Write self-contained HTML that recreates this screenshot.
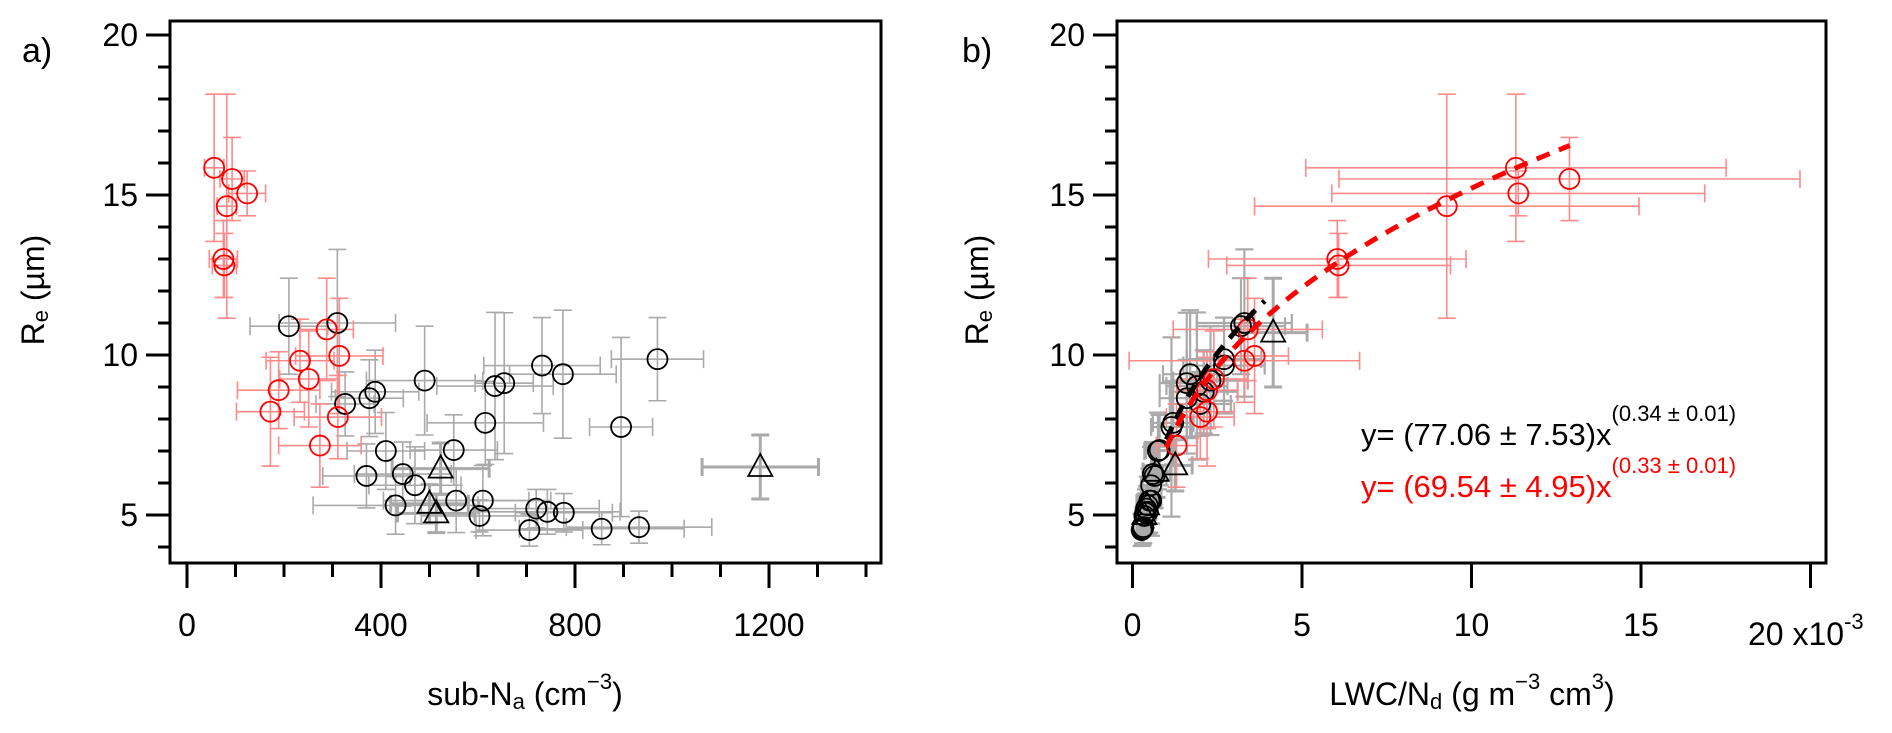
<!DOCTYPE html>
<html><head><meta charset="utf-8">
<style>
html,body{margin:0;padding:0;background:#fff;}
svg{display:block;font-family:"Liberation Sans",Arial,sans-serif;}
</style></head>
<body>
<svg id="chart" width="1892" height="733" viewBox="0 0 1892 733" xmlns="http://www.w3.org/2000/svg">
  <g id="panelA"></g>
  <g id="panelB"></g>
  <text x="22" y="62" font-size="34">a)</text>
  <text x="962" y="62" font-size="34">b)</text>
  <text transform="translate(44,290) rotate(-90)" text-anchor="middle" font-size="32">R<tspan font-size="22" dy="4">e</tspan><tspan dy="-4"> (µm)</tspan></text>
  <text transform="translate(988,290) rotate(-90)" text-anchor="middle" font-size="32">R<tspan font-size="22" dy="4">e</tspan><tspan dy="-4"> (µm)</tspan></text>
  <text x="525" y="705" text-anchor="middle" font-size="32">sub-N<tspan font-size="22" dy="4">a</tspan><tspan dy="-4"> (cm</tspan><tspan font-size="22" dy="-16">−3</tspan><tspan dy="16">)</tspan></text>
  <text x="1472" y="705" text-anchor="middle" font-size="32">LWC/N<tspan font-size="22" dy="4">d</tspan><tspan dy="-4"> (g m</tspan><tspan font-size="22" dy="-16">−3</tspan><tspan dy="16"> cm</tspan><tspan font-size="22" dy="-16">3</tspan><tspan dy="16">)</tspan></text>
  <text x="1748" y="645" font-size="32">20 x10<tspan font-size="22" dy="-16">-3</tspan></text>
  <text x="1361" y="445" font-size="31" fill="#000">y= (77.06 ± 7.53)x<tspan font-size="22" dy="-24">(0.34 ± 0.01)</tspan></text>
  <text x="1361" y="497" font-size="31" fill="#f00">y= (69.54 ± 4.95)x<tspan font-size="22" dy="-24">(0.33 ± 0.01)</tspan></text>
</svg>
<script>
// ---- data: panel a (sub-Na vs Re) ----
const blackRe = [10.9,11.0,8.47,8.65,8.85,9.2,9.03,9.12,9.67,9.4,9.87,7.88,7.75,7.0,7.03,6.22,6.28,5.93,5.3,5.45,5.45,4.97,5.2,5.1,5.07,4.53,4.57,4.62];
const blackReErr = [1.5,2.3,1.0,1.2,1.3,1.7,2.3,2.2,1.5,2.0,1.3,1.3,2.8,1.2,1.1,1.0,1.0,1.2,0.9,1.0,1.1,0.5,0.6,0.7,0.6,0.5,0.5,0.5];
const blackNa = [210,310,326,376,388,490,635,654,732,775,970,615,895,410,550,370,445,470,430,555,610,603,720,743,777,706,855,932];
const blackNaErr = [80,120,60,70,90,120,120,60,120,110,95,120,65,80,90,90,100,95,170,150,140,120,130,150,100,110,170,150];
const redRe = [15.85,15.5,15.05,14.65,13.0,12.8,10.8,9.97,9.82,9.25,8.9,8.23,8.06,7.17];
const redReErr = [2.3,1.3,0.7,3.5,1.2,1.0,1.6,1.8,1.3,1.5,1.2,1.7,1.3,1.3];
const redNa = [56,93,124,82,75,77,288,314,233,251,189,172,311,274];
const redNaErr = [20,25,38,20,29,25,55,90,70,60,85,70,90,85];
const triNa = [523,500,514,1182];
const triNaErr = [100,80,80,120];
const triReA = [6.45,5.35,5.05,6.5];
const triReErrA = [0.8,0.6,0.6,1.0];
// ---- data: panel b (LWC/Nd x1e-3 vs Re) ----
const blackLwc = [3.2,3.3,2.0,1.6,2.1,2.3,1.9,1.6,2.7,1.7,2.7,1.2,1.15,0.75,0.8,0.65,0.6,0.55,0.45,0.5,0.55,0.35,0.4,0.45,0.38,0.27,0.3,0.32];
const blackLwcErr = [1.3,1.4,0.9,0.8,1.0,1.1,0.9,0.8,1.2,0.8,1.1,0.6,0.6,0.4,0.4,0.35,0.3,0.3,0.25,0.25,0.3,0.2,0.2,0.25,0.2,0.15,0.15,0.2];
const redLwc = [11.31,12.89,11.38,9.27,6.04,6.08,3.4,3.6,3.3,2.4,2.2,2.2,2.0,1.3];
const redLwcErr = [6.2,6.8,5.5,5.67,3.8,3.3,2.2,1.0,3.4,1.0,0.9,0.8,1.0,0.6];
const triLwc = [4.15,1.26,0.71,0.43,0.35];
const triLwcErr = [1.0,0.5,0.4,0.3,0.25];
const triReB = [10.7,6.55,6.35,5.3,5.0];
const triReErrB = [1.7,0.8,0.8,0.6,0.6];
// fit parameters  y = a * x^b  (x in g m-3 cm3)
const fitA = [77.06, 69.54];
const fitB = [0.34, 0.33];
const fitRange = [[1.0,3.9],[1.0,12.9]];
const yTicks = [5,10,15,20];
const xTicksA = [0,400,800,1200];
const xTicksB = [0,5,10,15];

const NS = "http://www.w3.org/2000/svg";
function mk(parent, tag, attrs){const e=document.createElementNS(NS,tag);for(const k in attrs)e.setAttribute(k,attrs[k]);parent.appendChild(e);return e;}

const plotTop=21, plotBot=563;
const yS = v => 515 - (v-5)*32;

function frame(g, L, R, xS, xMajor, xMinorStep, xMin, xMax, labels){
  const f = mk(g,'rect',{x:L,y:plotTop,width:R-L,height:plotBot-plotTop,fill:'none',stroke:'#000','stroke-width':3});
  
  
  for(let v=4; v<=20; v++){
    const y=yS(v), major = v%5===0;
    const t=mk(g,'line',{x1:L-(major?24:12),x2:L,y1:y,y2:y,stroke:'#000','stroke-width':3});
    
    
  }
  yTicks.forEach(v=>{
    const t=mk(g,'text',{x:L-32,y:yS(v)+11,'text-anchor':'end','font-size':32});
    t.textContent=v;
    
    
  });
  if(xMinorStep){
    for(let v=xMin; v<=xMax; v+=xMinorStep){
      const x=xS(v);
      const t=mk(g,'line',{x1:x,x2:x,y1:plotBot,y2:plotBot+14,stroke:'#000','stroke-width':3});
      
      
    }
  }
  xMajor.forEach(v=>{
    const x=xS(v);
    const t=mk(g,'line',{x1:x,x2:x,y1:plotBot,y2:plotBot+25,stroke:'#000','stroke-width':3});
    
    
  });
  labels.forEach(v=>{
    const t=mk(g,'text',{x:xS(v),y:636,'text-anchor':'middle','font-size':32});
    t.textContent=v;
    
    
  });
}

function errbar(g, x, y, ex, ey, xS, color, w, cap){
  const cx=xS(x), cy=yS(y), x1=xS(x-ex), x2=xS(x+ex), y1=yS(y-ey), y2=yS(y+ey);
  const e=mk(g,'path',{d:`M${x1},${cy}H${x2}M${cx},${y1}V${y2}M${x1},${cy-cap}V${cy+cap}M${x2},${cy-cap}V${cy+cap}M${cx-cap},${y1}H${cx+cap}M${cx-cap},${y2}H${cx+cap}`,stroke:color,'stroke-width':w,fill:'none'});
  
  
}
function circ(g,x,y,xS,color){
  const c=mk(g,'circle',{cx:xS(x),cy:yS(y),r:10,fill:'none',stroke:color,'stroke-width':1.8});
  
  
}
function tri(g,x,y,xS){
  const cx=xS(x), cy=yS(y);
  const t=mk(g,'path',{d:`M${cx},${cy-13}L${cx+12},${cy+9}L${cx-12},${cy+9}Z`,fill:'none',stroke:'#000','stroke-width':1.8});
  
  
}

// ---- Panel A ----
const gA=document.getElementById('panelA');
const xA = v => 187 + v*0.485;
blackNa.forEach((x,i)=>errbar(gA,x,blackRe[i],blackNaErr[i],blackReErr[i],xA,'#aaaaaa',1.6,9));
triNa.forEach((x,i)=>errbar(gA,x,triReA[i],triNaErr[i],triReErrA[i],xA,'#aaaaaa',3,9));
redNa.forEach((x,i)=>errbar(gA,x,redRe[i],redNaErr[i],redReErr[i],xA,'#ff8a8a',1.6,9));
blackNa.forEach((x,i)=>circ(gA,x,blackRe[i],xA,'#000'));
redNa.forEach((x,i)=>circ(gA,x,redRe[i],xA,'#f00'));
triNa.forEach((x,i)=>tri(gA,x,triReA[i],xA));
frame(gA,170,881,xA,xTicksA,100,0,1400,xTicksA);

// ---- Panel B ----
const gB=document.getElementById('panelB');
const xB = v => 1132.5 + v*33.9;
blackLwc.forEach((x,i)=>errbar(gB,x,blackRe[i],blackLwcErr[i],blackReErr[i],xB,'#aaaaaa',2.2,9));
triLwc.forEach((x,i)=>errbar(gB,x,triReB[i],triLwcErr[i],triReErrB[i],xB,'#aaaaaa',3,9));
redLwc.forEach((x,i)=>errbar(gB,x,redRe[i],redLwcErr[i],redReErr[i],xB,'#ff8a8a',1.6,9));
blackLwc.forEach((x,i)=>circ(gB,x,blackRe[i],xB,'#000'));
redLwc.forEach((x,i)=>circ(gB,x,redRe[i],xB,'#f00'));
triLwc.forEach((x,i)=>tri(gB,x,triReB[i],xB));
['#000','#f00'].forEach((col,k)=>{
  let d='';
  const [a,b]=fitRange[k];
  for(let j=0;j<=60;j++){
    const x=a+(b-a)*j/60;
    const y=fitA[k]*Math.pow(x/1000,fitB[k]);
    d+=(j?'L':'M')+xB(x).toFixed(1)+','+yS(y).toFixed(1);
  }
  const p=mk(gB,'path',{d:d,fill:'none',stroke:col,'stroke-width':5,'stroke-dasharray':'14 10'});
  
  
});
frame(gB,1117,1826,xB,[0,5,10,15,20],0,0,0,xTicksB);
</script>
</body></html>
